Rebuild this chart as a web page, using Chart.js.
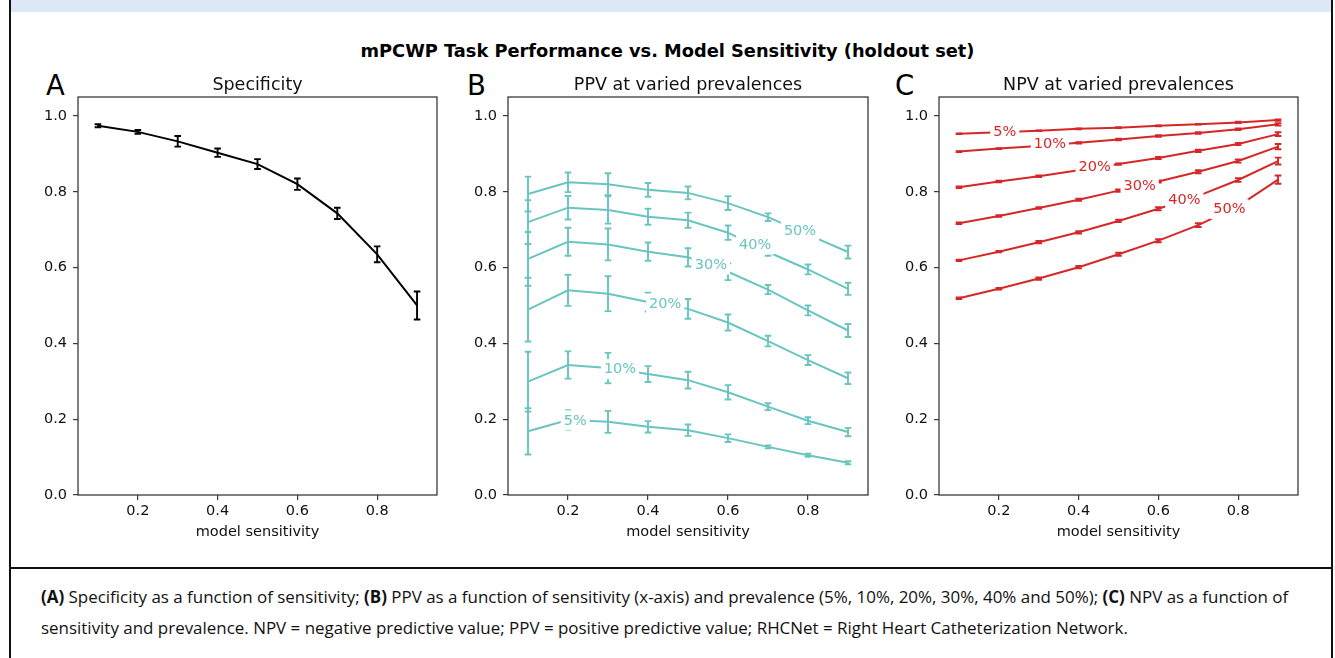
<!DOCTYPE html>
<html><head><meta charset="utf-8">
<script src="https://cdn.jsdelivr.net/npm/chart.js@4.4.1/dist/chart.umd.min.js"></script>
<style>
html,body{margin:0;padding:0;background:#fff;width:1335px;height:658px;overflow:hidden;position:relative;font-family:'DejaVu Sans',sans-serif;}
.abs{position:absolute;}
#band{left:11px;top:0;width:1320px;height:12px;background:#dce8f5;}
#bl{left:9px;top:0;width:2px;height:658px;background:#111;}
#br{left:1331px;top:0;width:2px;height:658px;background:#111;}
#hl{left:9px;top:567px;width:1324px;height:2px;background:#111;}
#sup{left:0;top:41px;width:1335px;text-align:center;font-weight:bold;font-size:17.8px;line-height:20px;color:#000;}
.letter{position:absolute;font-size:27.5px;line-height:27px;top:72px;color:#000;}
canvas{position:absolute;top:60px;}
#cap{position:absolute;left:41px;top:581px;font-family:'Open Sans',sans-serif;font-size:14.5px;line-height:31px;color:#111;white-space:nowrap;}
#cap span{white-space:nowrap;}
</style></head>
<body>
<div id="band" class="abs"></div>
<div id="bl" class="abs"></div>
<div id="br" class="abs"></div>
<div id="hl" class="abs"></div>
<div id="sup" class="abs">mPCWP Task Performance vs. Model Sensitivity (holdout set)</div>
<div class="letter" style="left:46px">A</div>
<div class="letter" style="left:467px">B</div>
<div class="letter" style="left:895px">C</div>
<canvas id="cA" width="430" height="485" style="left:20px"></canvas>
<canvas id="cB" width="430" height="485" style="left:450px"></canvas>
<canvas id="cC" width="430" height="485" style="left:881px"></canvas>
<div id="cap"><span id="l1"><b>(A)</b> Specificity as a function of sensitivity; <b>(B)</b> PPV as a function of sensitivity (x-axis) and prevalence (5%, 10%, 20%, 30%, 40% and 50%); <b>(C)</b> NPV as a function of</span><br><span id="l2">sensitivity and prevalence. NPV = negative predictive value; PPV = positive predictive value; RHCNet = Right Heart Catheterization Network.</span></div>
<script>
// ---------- data ----------
const sensitivity = [0.1, 0.2, 0.3, 0.4, 0.5, 0.6, 0.7, 0.8, 0.9];
const xTicks = [0.2, 0.4, 0.6, 0.8];
const yTicks = [0.0, 0.2, 0.4, 0.6, 0.8, 1.0];
const prevalenceLabels = ['5%', '10%', '20%', '30%', '40%', '50%'];

const specificity    = [0.974, 0.958, 0.933, 0.903, 0.873, 0.820, 0.743, 0.635, 0.500];
const specificityErr = [0.004, 0.005, 0.014, 0.011, 0.013, 0.015, 0.015, 0.021, 0.037];

const ppv5  = [0.168, 0.198, 0.193, 0.180, 0.171, 0.150, 0.127, 0.105, 0.085];
const ppv10 = [0.299, 0.343, 0.335, 0.319, 0.303, 0.271, 0.233, 0.196, 0.166];
const ppv20 = [0.489, 0.540, 0.531, 0.509, 0.491, 0.455, 0.406, 0.356, 0.308];
const ppv30 = [0.623, 0.668, 0.661, 0.642, 0.627, 0.589, 0.542, 0.487, 0.434];
const ppv40 = [0.720, 0.758, 0.752, 0.734, 0.725, 0.692, 0.641, 0.595, 0.544];
const ppv50 = [0.794, 0.825, 0.820, 0.805, 0.797, 0.770, 0.733, 0.687, 0.641];
const ppv5Err  = [0.061, 0.026, 0.029, 0.015, 0.015, 0.010, 0.004, 0.004, 0.004];
const ppv10Err = [0.079, 0.036, 0.040, 0.021, 0.022, 0.019, 0.009, 0.009, 0.011];
const ppv20Err = [0.084, 0.041, 0.046, 0.025, 0.026, 0.021, 0.014, 0.013, 0.015];
const ppv30Err = [0.071, 0.037, 0.042, 0.024, 0.024, 0.022, 0.012, 0.013, 0.017];
const ppv40Err = [0.058, 0.031, 0.036, 0.021, 0.020, 0.019, 0.010, 0.013, 0.016];
const ppv50Err = [0.046, 0.026, 0.029, 0.018, 0.017, 0.018, 0.010, 0.012, 0.017];
const ppvLabelX = [0.218, 0.330, 0.443, 0.557, 0.668, 0.780];
const ppvLabelY = [0.197, 0.332, 0.505, 0.608, 0.661, 0.696];

const npv5  = [0.953, 0.957, 0.961, 0.966, 0.969, 0.974, 0.978, 0.983, 0.989];
const npv10 = [0.906, 0.914, 0.921, 0.929, 0.938, 0.947, 0.955, 0.965, 0.978];
const npv20 = [0.812, 0.827, 0.841, 0.857, 0.873, 0.889, 0.908, 0.926, 0.952];
const npv30 = [0.717, 0.736, 0.757, 0.779, 0.803, 0.827, 0.853, 0.881, 0.919];
const npv40 = [0.619, 0.642, 0.667, 0.693, 0.723, 0.755, 0.789, 0.831, 0.881];
const npv50 = [0.519, 0.544, 0.571, 0.601, 0.635, 0.671, 0.712, 0.762, 0.832];
const npv5Err  = [0.001, 0.001, 0.001, 0.001, 0.001, 0.001, 0.001, 0.002, 0.002];
const npv10Err = [0.001, 0.001, 0.001, 0.002, 0.002, 0.002, 0.002, 0.002, 0.003];
const npv20Err = [0.002, 0.002, 0.002, 0.002, 0.002, 0.003, 0.003, 0.003, 0.005];
const npv30Err = [0.002, 0.002, 0.002, 0.003, 0.003, 0.003, 0.004, 0.004, 0.007];
const npv40Err = [0.002, 0.002, 0.003, 0.003, 0.003, 0.004, 0.004, 0.005, 0.009];
const npv50Err = [0.002, 0.002, 0.003, 0.003, 0.004, 0.004, 0.005, 0.006, 0.011];
const npvLabelX = [0.215, 0.328, 0.440, 0.553, 0.665, 0.778];
const npvLabelY = [0.958, 0.928, 0.865, 0.816, 0.780, 0.754];

// ---------- styling ----------
const BLACK = '#000000';
const TEAL = '#68c5c0';
const RED = '#d62728';
const FONT = "'DejaVu Sans', sans-serif";
Chart.defaults.font.family = FONT;

function overlay(labelTexts, labelX, labelY, color) {
  return {
    id: 'overlay',
    afterDatasetsDraw(chart) {
      const ctx = chart.ctx, xs = chart.scales.x, ys = chart.scales.y;
      const a = chart.chartArea;
      ctx.save();
      ctx.beginPath();
      ctx.rect(a.left, a.top, a.right - a.left, a.bottom - a.top);
      ctx.clip();
      chart.data.datasets.forEach(ds => {
        if (!ds.err) return;
        ctx.strokeStyle = ds.borderColor;
        ctx.lineWidth = 1.9;
        const cap = 3.3;
        ds.data.forEach((p, i) => {
          const e = ds.err[i];
          const px = xs.getPixelForValue(p.x);
          const y1 = ys.getPixelForValue(p.y - e), y2 = ys.getPixelForValue(p.y + e);
          ctx.beginPath();
          ctx.moveTo(px, y1); ctx.lineTo(px, y2);
          ctx.moveTo(px - cap, y1); ctx.lineTo(px + cap, y1);
          ctx.moveTo(px - cap, y2); ctx.lineTo(px + cap, y2);
          ctx.stroke();
        });
      });
      if (labelTexts) {
        ctx.font = "14.5px " + FONT;
        ctx.textAlign = 'center';
        ctx.textBaseline = 'middle';
        labelTexts.forEach((t, i) => {
          const px = xs.getPixelForValue(labelX[i]);
          const py = ys.getPixelForValue(labelY[i]);
          const w = ctx.measureText(t).width;
          ctx.fillStyle = '#ffffff';
          ctx.fillRect(px - w / 2 - 3, py - 10, w + 6, 20);
          ctx.fillStyle = color;
          ctx.fillText(t, px, py + 0.5);
        });
      }
      ctx.restore();
    },
    afterDraw(chart) {
      const ctx = chart.ctx, a = chart.chartArea;
      ctx.save();
      ctx.strokeStyle = '#3a3a3a';
      ctx.lineWidth = 1.3;
      ctx.strokeRect(a.left, a.top, a.right - a.left, a.bottom - a.top);
      ctx.restore();
    }
  };
}

function makeChart(id, title, datasets, rightPad, plugin) {
  const tickFont = { size: 14.5 };
  const grid = { display: true, drawOnChartArea: false, drawTicks: true, tickLength: 5, color: '#3a3a3a', lineWidth: 1.2 };
  return new Chart(document.getElementById(id), {
    type: 'line',
    data: { datasets },
    options: {
      responsive: false, animation: false, events: [],
      layout: { padding: { top: 0, right: rightPad, bottom: 0, left: 0 } },
      plugins: {
        legend: { display: false }, tooltip: { enabled: false },
        title: { display: true, text: title, fullSize: false, color: '#111', font: { size: 17.5, weight: 'normal' }, padding: { top: 15, bottom: 1 } }
      },
      scales: {
        x: {
          type: 'linear', min: 0.05, max: 0.95,
          afterBuildTicks: s => { s.ticks = xTicks.map(v => ({ value: v })); },
          afterFit: s => { s.height = 50; },
          ticks: { autoSkip: false, maxRotation: 0, padding: 3, color: '#111', font: tickFont, callback: v => Number(v).toFixed(1) },
          grid, border: { display: false },
          title: { display: true, text: 'model sensitivity', color: '#111', font: { size: 14.5 }, padding: { top: 0, bottom: 4.3 } }
        },
        y: {
          type: 'linear', min: 0, max: 1.05,
          afterBuildTicks: s => { s.ticks = yTicks.map(v => ({ value: v })); },
          afterFit: s => { s.width = 58; },
          ticks: { autoSkip: false, padding: 6, color: '#111', font: tickFont, callback: v => Number(v).toFixed(1) },
          grid, border: { display: false }
        }
      }
    },
    plugins: [plugin]
  });
}

function series(vals, errs, color) {
  return { data: sensitivity.map((s, i) => ({ x: s, y: vals[i] })), err: errs, borderColor: color, borderWidth: 2, pointRadius: 0, tension: 0, fill: false };
}

makeChart('cA', 'Specificity', [series(specificity, specificityErr, BLACK)], 13, overlay(null));

const ppvVals = [ppv5, ppv10, ppv20, ppv30, ppv40, ppv50];
const ppvErrs = [ppv5Err, ppv10Err, ppv20Err, ppv30Err, ppv40Err, ppv50Err];
makeChart('cB', 'PPV at varied prevalences', ppvVals.map((v, k) => series(v, ppvErrs[k], TEAL)), 12,
  overlay(prevalenceLabels, ppvLabelX, ppvLabelY, TEAL));

const npvVals = [npv5, npv10, npv20, npv30, npv40, npv50];
const npvErrs = [npv5Err, npv10Err, npv20Err, npv30Err, npv40Err, npv50Err];
makeChart('cC', 'NPV at varied prevalences', npvVals.map((v, k) => series(v, npvErrs[k], RED)), 13,
  overlay(prevalenceLabels, npvLabelX, npvLabelY, RED));

// fit caption first line to the reference width
(function () {
  const l1 = document.getElementById('l1');
  const w = l1.getBoundingClientRect().width;
  const cap = document.getElementById('cap');
  cap.style.fontSize = (14.5 * 1249 / w).toFixed(2) + 'px';
})();
</script>
</body></html>
